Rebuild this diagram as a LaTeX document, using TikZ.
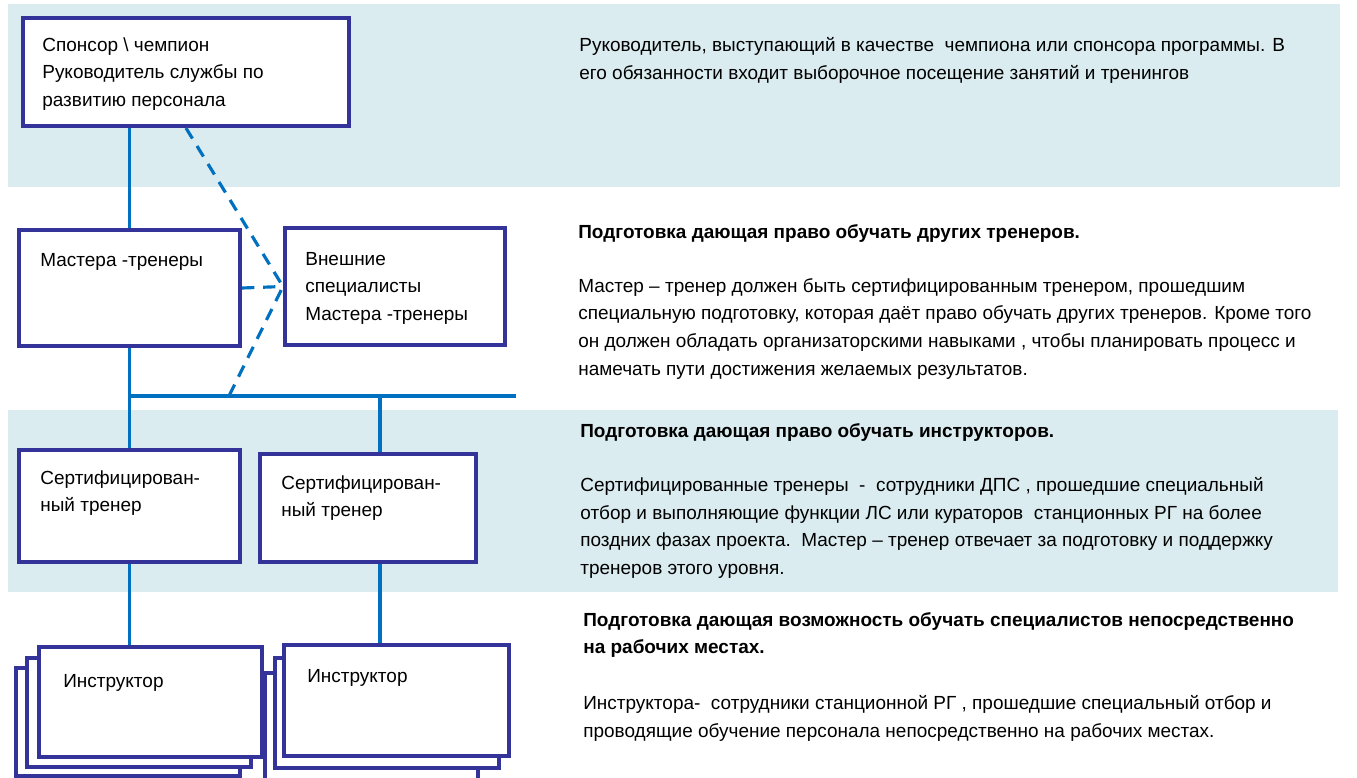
\documentclass[tikz,border=0pt]{standalone}
\usepackage{fontspec}
\setmainfont{Liberation Sans}
\usetikzlibrary{fit}
\definecolor{bandblue}{RGB}{218,236,240}
\definecolor{boxblue}{RGB}{51,51,153}
\definecolor{linkblue}{RGB}{0,112,192}
\tikzset{
  frame/.style={draw=boxblue, line width=2.3pt, fill=white, inner sep=0pt},
  link/.style={draw=linkblue, line width=1.8pt},
  dlink/.style={link, dash pattern=on 7pt off 5pt},
  txt/.style={anchor=north west, inner sep=0pt, align=left,
    font=\fontsize{10.8}{15.7}\selectfont, execute at begin node=\strut},
  head/.style={txt, font=\fontsize{10.8}{15.7}\selectfont\bfseries}
}
\begin{document}
\begin{tikzpicture}[x=0.02cm,y=-0.02cm]
\useasboundingbox (0,0) rectangle (1357,778);
% bands
\fill[bandblue] (8,4) rectangle (1340,187);
\fill[bandblue] (8,410) rectangle (1338,592);
% boxes
\node[frame, fit={(23,18) (349,126)}] (sponsor) {};
\node[frame, fit={(19,230) (240,346)}] (master) {};
\node[frame, fit={(285,228) (505,345)}] (extern) {};
\node[frame, fit={(19,450) (240,562)}] (cert1) {};
\node[frame, fit={(260,454) (476,562)}] (cert2) {};
% instructor stacks
\node[frame, fit={(16,668) (240,776)}] (inst1c) {};
\node[frame, fit={(27,658) (251,767)}] (inst1b) {};
\node[frame, fit={(39,647) (262,757)}] (inst1) {};
\node[frame, fit={(265,673) (478,790)}] (inst2c) {};
\node[frame, fit={(275,658) (499,768)}] (inst2b) {};
\node[frame, fit={(284,645) (509,756)}] (inst2) {};
% connectors
\coordinate (bus-l) at (130,396);
\coordinate (bus-d) at (229,396);
\coordinate (bus-m) at (380,396);
\coordinate (bus-r) at (516,396);
\draw[link] (master.north) -- (master.north |- sponsor.south);
\draw[link] (master.south) -- (cert1.north);
\draw[link] (bus-l) -- (bus-r);
\draw[link] (bus-m) -- (bus-m |- cert2.north);
\draw[link] (cert1.south) -- (cert1.south |- inst1.north);
\draw[link] (bus-m |- cert2.south) -- (bus-m |- inst2.north);
\draw[dlink] (sponsor.south) -- (extern.west) -- (bus-d);
\draw[dlink] (master.east) -- (extern.west);
% box texts
\node[txt] (t-sponsor) at (42,37) {Спонсор \textbackslash{} чемпион\\Руководитель службы по\\развитию персонала};
\node[txt] (t-master) at (40,247) {Мастера -тренеры};
\node[txt] (t-extern) at (305,252) {Внешние\\специалисты\\Мастера -тренеры};
\node[txt] (t-cert1) at (40,470) {Сертифицирован-\\ный тренер};
\node[txt] (t-cert2) at (281,475) {Сертифицирован-\\ный тренер};
\node[txt] (t-inst1) at (63,668) {Инструктор};
\node[txt] (t-inst2) at (307,663) {Инструктор};
% descriptions
\node[txt] (d-sponsor) at (579,37) {Руководитель, выступающий в качестве\ \ чемпиона или спонсора программы. В\\его обязанности входит выборочное посещение занятий и тренингов};
\node[head] (h-master) at (578,219) {Подготовка дающая право обучать других тренеров.};
\node[txt] (d-master) at (578,278) {Мастер – тренер должен быть сертифицированным тренером, прошедшим\\специальную подготовку, которая даёт право обучать других тренеров. Кроме того\\он должен обладать организаторскими навыками , чтобы планировать процесс и\\намечать пути достижения желаемых результатов.};
\node[head] (h-cert) at (580,418) {Подготовка дающая право обучать инструкторов.};
\node[txt] (d-cert) at (580,477) {Сертифицированные тренеры\ \ -\ \ сотрудники ДПС , прошедшие специальный\\отбор и выполняющие функции ЛС или кураторов\ \ станционных РГ на более\\поздних фазах проекта.\ \ Мастер – тренер отвечает за подготовку и поддержку\\тренеров этого уровня.};
\node[head] (h-inst) at (583,612) {Подготовка дающая возможность обучать специалистов непосредственно\\на рабочих местах.};
\node[txt] (d-inst) at (583,695) {Инструктора-\ \ сотрудники станционной РГ , прошедшие специальный отбор и\\проводящие обучение персонала непосредственно на рабочих местах.};
\end{tikzpicture}
\end{document}
